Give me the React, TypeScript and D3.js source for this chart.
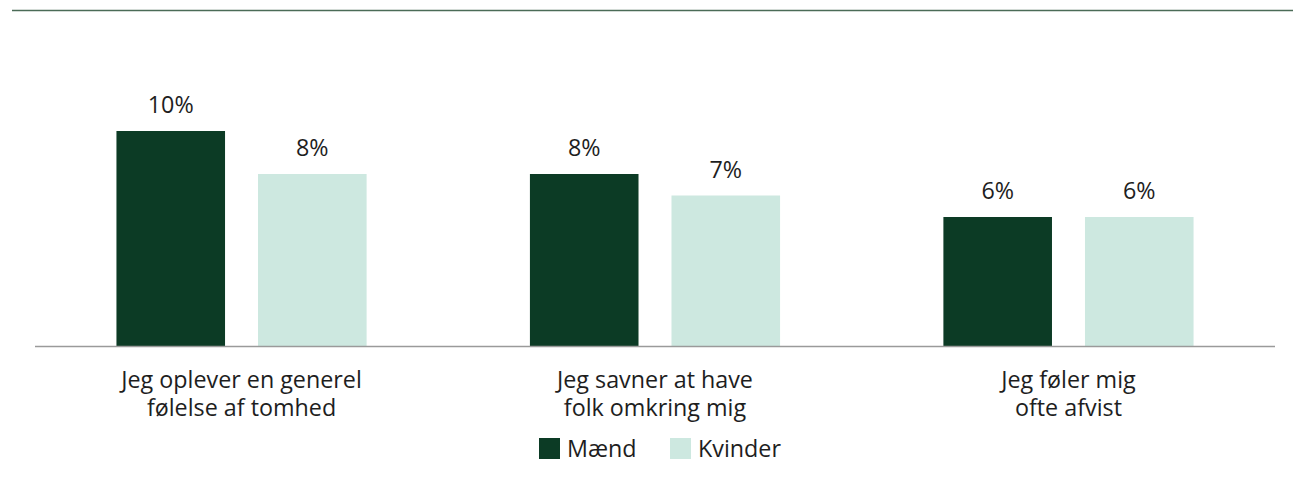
import React from 'react'
import { scaleBand, scaleLinear } from 'd3'

const categories = [
  ['Jeg oplever en generel', 'følelse af tomhed'],
  ['Jeg savner at have', 'folk omkring mig'],
  ['Jeg føler mig', 'ofte afvist'],
]
const seriesNames = ['Mænd', 'Kvinder']
const maend = [10, 8, 6]
const kvinder = [8, 7, 6]
const colors = ['#0c3b25', '#cde8e0']

const W = 1293
const H = 480
const margin = { left: 35, right: 18, baseline: 346 }

const App = () => {
  const x0 = scaleBand<number>()
    .domain(categories.map((_, i) => i))
    .range([margin.left, W - margin.right])
    .paddingInner(0.395)
    .paddingOuter(0.197)
  const x1 = scaleBand<number>()
    .domain([0, 1])
    .range([0, x0.bandwidth()])
    .paddingInner(0.233)
  const y = scaleLinear().domain([0, 10]).range([margin.baseline, 131])

  const series = [maend, kvinder]
  const font = '"Open Sans", "Noto Sans", sans-serif'

  return (
    <svg width={W} height={H} style={{ position: 'absolute', left: 0, top: 0, fontFamily: font }}>
      <line x1={12} x2={W} y1={10.5} y2={10.5} stroke="#4b6b57" strokeWidth={1.5} />
      {categories.map((cat, i) => (
        <g key={i} transform={`translate(${x0(i)},0)`}>
          {series.map((vals, s) => (
            <g key={s}>
              <rect
                x={x1(s)}
                y={y(vals[i])}
                width={x1.bandwidth()}
                height={margin.baseline - y(vals[i])}
                fill={colors[s]}
              />
              <text
                x={(x1(s) as number) + x1.bandwidth() / 2}
                y={y(vals[i]) - 18}
                textAnchor="middle"
                fontSize={23.3}
                fill="#1e1e1e"
              >
                {vals[i]}%
              </text>
            </g>
          ))}
          <text textAnchor="middle" fontSize={23.3} fill="#1e1e1e">
            {cat.map((line, k) => (
              <tspan key={k} x={x0.bandwidth() / 2} y={388 + k * 27.5}>
                {line}
              </tspan>
            ))}
          </text>
        </g>
      ))}
      <line x1={margin.left} x2={W - margin.right} y1={346.5} y2={346.5} stroke="#9a9a9a" strokeWidth={1.5} />
      {seriesNames.map((name, s) => (
        <g key={name} transform={`translate(${539 + s * 131},438)`}>
          <rect width={21} height={21} fill={colors[s]} />
          <text x={28} y={19} fontSize={23.3} fill="#1e1e1e">{name}</text>
        </g>
      ))}
    </svg>
  )
}

export default App
